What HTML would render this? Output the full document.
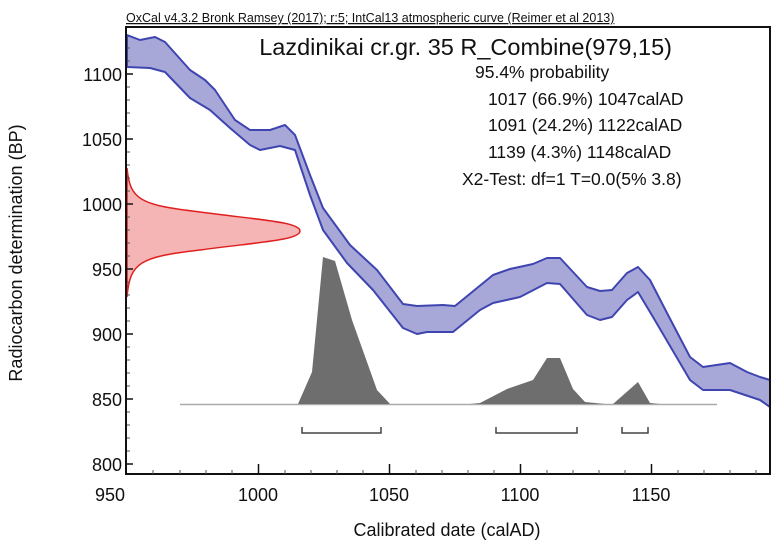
<!DOCTYPE html>
<html><head><meta charset="utf-8"><style>body{margin:0;background:#fff}svg{display:block}text{font-family:"Liberation Sans",Arial,sans-serif;fill:#111}</style></head>
<body>
<svg width="780" height="549" viewBox="0 0 780 549">
<text x="126" y="22" font-size="12.5" text-decoration="underline" fill="#333">OxCal v4.3.2 Bronk Ramsey (2017); r:5; IntCal13 atmospheric curve (Reimer et al 2013)</text>
<!-- band -->
<path d="M127,35 L140,40 L155,37 L165,42 L190,70 L205,80 L215,90 L235,120 L250,130 L270,130 L285,125 L295,135 L310,175 L323,208 L350,245 L377,270 L403,304 L417,306 L443,305 L455,306 L493,275 L510,269 L533,264 L547,258 L560,258 L587,287 L600,291 L612,290 L627,273 L638,267 L650,280 L667,313 L690,357 L703,367 L730,363 L747,372 L760,377 L770,380 L770,407 L760,400 L730,390 L703,390 L690,380 L653,317 L638,292 L627,300 L612,317 L600,320 L587,315 L560,284 L547,283 L520,297 L493,303 L480,310 L453,332 L427,332 L417,334 L403,328 L373,290 L347,263 L323,230 L310,195 L295,150 L280,146 L260,150 L250,145 L230,128 L210,110 L190,98 L165,72 L150,68 L127,67 Z" fill="#a8a8d8" stroke="#3f45b0" stroke-width="2" stroke-linejoin="round"/>
<!-- red gaussian -->
<path fill="#f4a8a8" fill-opacity="0.85" stroke="#e02020" stroke-width="1.5" d="M127,168 C130,200 140,205 200,212 C260,220 300,222 300,231 C300,240 260,242 200,250 C140,257 130,262 127,297 Z"/>
<!-- gray histogram -->
<line x1="180" y1="404.5" x2="717" y2="404.5" stroke="#aaa" stroke-width="1.5"/>
<path d="M298,404 L312,372 L323,257 L335,261 L352,320 L377,390 L390,404 Z" fill="#6e6e6e"/>
<path d="M470,404 L480,403 L507,389 L533,380 L547,358 L560,358 L573,389 L585,402 L605,404 Z" fill="#6e6e6e"/>
<path d="M613,404 L638,382 L650,403 L660,404 Z" fill="#6e6e6e"/>
<g stroke="#444" stroke-width="1.5" fill="none">
<path d="M302,427 V433 H381 V427"/><path d="M496,427 V433 H577 V427"/><path d="M622,427 V433 H648 V427"/>
</g>
<!-- frame -->
<rect x="126" y="27" width="644" height="447" fill="none" stroke="#111" stroke-width="2"/>
<g stroke="#555" stroke-width="1">
<path d="M127,74h6M127,139h6M127,204h6M127,269h6M127,334h6M127,399h6M127,464h6" stroke="#111" stroke-width="1.5"/>
<path d="M127,48h3M127,61h3M127,87h3M127,100h3M127,113h3M127,126h3M127,152h3M127,165h3M127,178h3M127,191h3M127,217h3M127,230h3M127,243h3M127,256h3M127,282h3M127,295h3M127,308h3M127,321h3M127,347h3M127,360h3M127,373h3M127,386h3M127,412h3M127,425h3M127,438h3M127,451h3"/>
<path d="M258.5,474v-10M389.5,474v-10M520.5,474v-10M651.5,474v-10" stroke="#111" stroke-width="1.5"/>
<path d="M153,474v-4M180,474v-4M206,474v-4M232,474v-4M285,474v-4M311,474v-4M337,474v-4M363,474v-4M416,474v-4M442,474v-4M468,474v-4M494,474v-4M547,474v-4M573,474v-4M599,474v-4M625,474v-4M678,474v-4M704,474v-4M730,474v-4M756,474v-4"/>
</g>
<g font-size="18" text-anchor="end">
<text x="122" y="81">1100</text><text x="122" y="146">1050</text><text x="122" y="211">1000</text><text x="122" y="276">950</text><text x="122" y="341">900</text><text x="122" y="406">850</text><text x="122" y="471">800</text>
</g>
<g font-size="18" text-anchor="middle">
<text x="110" y="501">950</text><text x="258" y="501">1000</text><text x="389" y="501">1050</text><text x="520" y="501">1100</text><text x="651" y="501">1150</text>
<text x="447" y="536">Calibrated date (calAD)</text>
</g>
<text transform="translate(22,253) rotate(-90)" font-size="18" text-anchor="middle">Radiocarbon determination (BP)</text>
<text x="672" y="55" font-size="23.5" text-anchor="end">Lazdinikai cr.gr. 35 R_Combine(979,15)</text>
<g font-size="17.5">
<text x="475" y="78">95.4% probability</text>
<text x="488" y="105">1017 (66.9%) 1047calAD</text>
<text x="488" y="131">1091 (24.2%) 1122calAD</text>
<text x="488" y="158">1139 (4.3%) 1148calAD</text>
<text x="462" y="185">X2-Test: df=1 T=0.0(5% 3.8)</text>
</g>
</svg>
</body></html>
